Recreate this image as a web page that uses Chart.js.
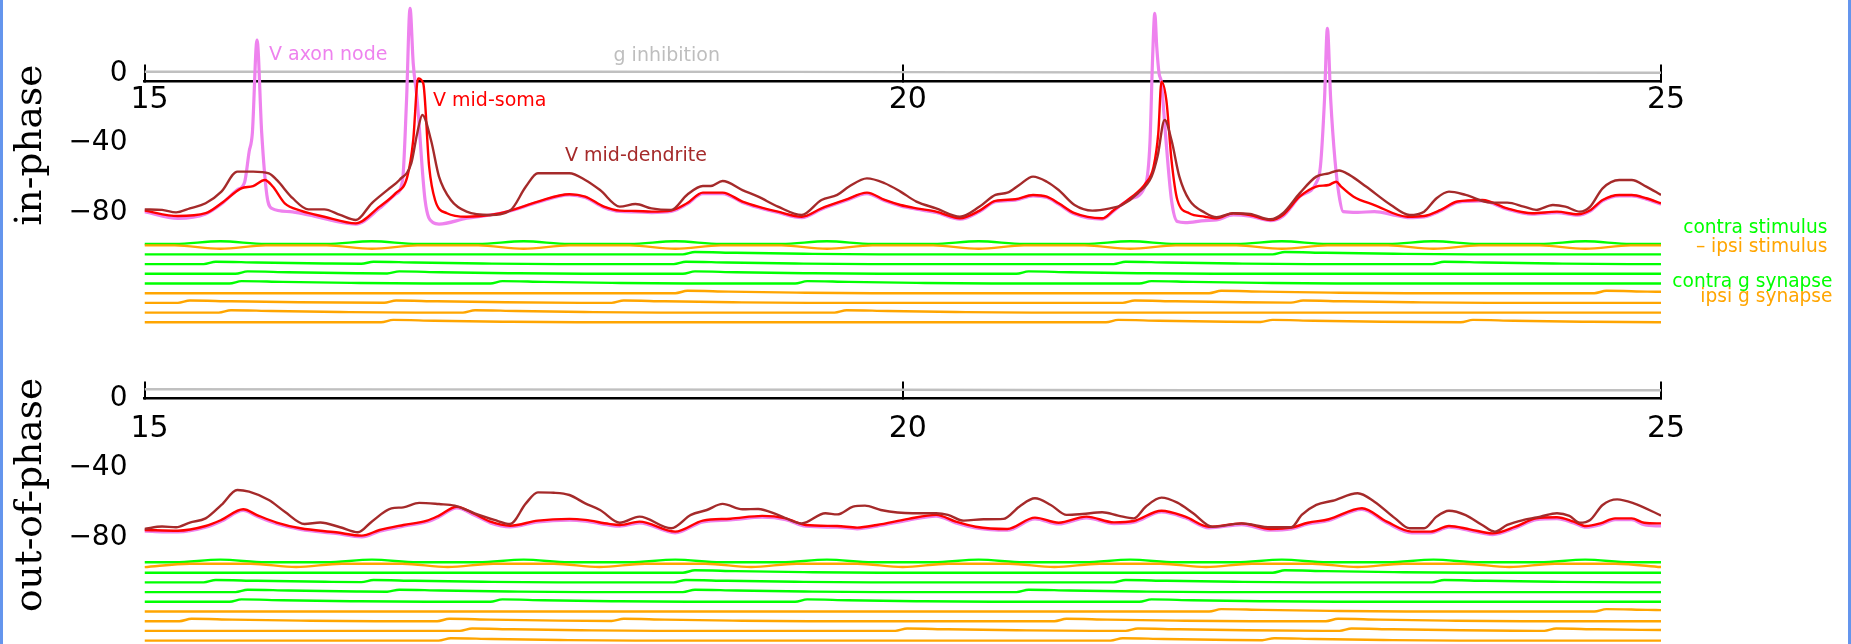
<!DOCTYPE html>
<html><head><meta charset="utf-8">
<script src="https://cdn.jsdelivr.net/npm/chart.js@4.4.1/dist/chart.umd.min.js"></script>
<style>
html,body{margin:0;padding:0;background:#fff;}
body{width:1851px;height:644px;position:relative;overflow:hidden;font-family:"DejaVu Sans",sans-serif;}
canvas{position:absolute;left:0;top:0;}
.lbl{position:absolute;white-space:nowrap;line-height:1;font-family:"DejaVu Sans",sans-serif;}
.ttl{position:absolute;white-space:nowrap;line-height:1;font-family:"DejaVu Serif",serif;font-size:37.5px;color:#000;transform:translate(-50%,-50%) rotate(-90deg);}
.edge{position:absolute;top:0;width:3px;height:644px;background:#6495ed;}
</style></head><body>
<canvas id="cIn" width="1851" height="644"></canvas>
<canvas id="cOut" width="1851" height="644"></canvas>
<div class="edge" style="left:0"></div><div class="edge" style="left:1848px"></div>
<script>
// ---------- tick labels ----------
const xTicks = [15, 20, 25];
const yTicks = [0, -40, -80];

// ---------- in-phase: membrane potentials (ms, mV) ----------
const inDendT = [15.0,15.116,15.208,15.299,15.403,15.507,15.612,15.716,15.82,15.872,15.977,16.081,16.185,16.29,16.394,16.498,16.603,16.681,16.759,16.798,16.832,16.889,16.942,17.02,17.124,17.281,17.411,17.515,17.594,17.802,17.906,18.004,18.134,18.238,18.343,18.473,18.577,18.682,18.734,18.812,18.943,19.047,19.177,19.334,19.464,19.568,19.646,19.764,19.881,19.985,20.09,20.22,20.377,20.507,20.611,20.69,20.768,20.859,20.95,21.028,21.133,21.25,21.367,21.446,21.55,21.641,21.68,21.727,21.772,21.824,21.889,21.993,22.07,22.179,22.289,22.425,22.507,22.617,22.727,22.809,22.877,22.945,23.055,23.219,23.342,23.438,23.52,23.602,23.712,23.876,23.986,24.095,24.177,24.287,24.369,24.465,24.533,24.615,24.725,24.807,24.903,25.0];
const inDendV = [-78.1,-78.4,-79.8,-77.5,-74.6,-67.9,-56.4,-56.4,-57.4,-61.2,-71.7,-78.1,-78.1,-81.3,-84.2,-74.6,-66.9,-61.2,-51.7,-34.5,-23.9,-38.3,-59.3,-72.7,-79.4,-81.3,-78.8,-65.0,-57.4,-57.4,-61.2,-67.0,-76.5,-75.0,-77.5,-78.4,-69.8,-64.7,-64.7,-61.8,-67.0,-70.8,-76.5,-81.3,-72.7,-69.8,-65.0,-60.3,-63.1,-67.9,-73.6,-77.5,-82.3,-76.5,-69.8,-68.5,-64.1,-59.3,-62.2,-67.0,-75.6,-78.8,-77.5,-75.6,-68.9,-59.3,-47.8,-26.8,-38.3,-59.3,-72.7,-80.0,-82.6,-80.3,-80.7,-83.8,-80.3,-68.9,-59.3,-57.4,-55.8,-58.3,-65.0,-75.6,-81.3,-79.4,-71.7,-67.9,-69.8,-74.2,-74.2,-76.5,-78.4,-75.6,-76.5,-79.4,-76.5,-66.0,-61.2,-61.2,-65.0,-69.8];
const inSomaT = [15.0,15.22,15.403,15.507,15.638,15.716,15.794,15.846,15.925,16.029,16.185,16.394,16.55,16.655,16.733,16.772,16.804,16.838,16.877,16.916,16.994,17.124,17.281,17.411,17.594,17.802,17.906,18.03,18.134,18.238,18.343,18.473,18.577,18.682,18.812,18.943,19.047,19.177,19.334,19.464,19.62,19.764,19.881,19.985,20.09,20.22,20.377,20.507,20.611,20.742,20.859,20.95,21.028,21.133,21.315,21.393,21.498,21.602,21.654,21.685,21.706,21.738,21.772,21.811,21.889,21.993,22.07,22.179,22.289,22.425,22.507,22.617,22.727,22.809,22.858,22.891,22.973,23.11,23.329,23.438,23.548,23.657,23.822,23.986,24.15,24.314,24.451,24.533,24.615,24.725,24.807,24.903,25.0];
const inSomaV = [-78.8,-81.9,-80.3,-74.6,-66.0,-64.7,-61.2,-65.0,-74.6,-78.8,-82.3,-86.1,-76.5,-68.9,-59.3,-38.3,-2.9,-5.7,-53.6,-72.7,-80.3,-82.3,-81.3,-78.8,-73.6,-69.4,-70.8,-76.5,-78.8,-79.0,-79.4,-78.8,-74.6,-68.5,-68.5,-73.6,-76.5,-79.4,-82.3,-77.5,-72.7,-68.5,-72.7,-75.6,-77.5,-79.4,-83.2,-78.8,-73.2,-72.3,-69.8,-70.8,-74.6,-80.3,-83.2,-78.4,-71.7,-63.1,-53.6,-34.5,-4.8,-15.3,-49.7,-72.7,-80.3,-82.3,-83.2,-80.3,-81.3,-84.2,-81.3,-70.8,-65.0,-64.1,-62.2,-65.0,-70.8,-75.6,-82.3,-81.9,-78.4,-73.6,-72.7,-77.5,-80.3,-79.4,-80.9,-78.6,-72.7,-69.8,-69.8,-71.7,-74.6];
const inAxonT = [15.0,15.22,15.403,15.507,15.612,15.66,15.69,15.711,15.742,15.773,15.807,15.839,15.96,16.081,16.394,16.55,16.655,16.702,16.728,16.751,16.772,16.798,16.85,16.903,16.942,17.124,17.281,17.411,17.594,17.802,17.906,18.03,18.134,18.238,18.343,18.473,18.577,18.682,18.812,18.943,19.047,19.177,19.334,19.464,19.62,19.764,19.881,19.985,20.09,20.22,20.377,20.507,20.611,20.742,20.859,20.95,21.028,21.133,21.315,21.393,21.498,21.602,21.63,21.648,21.662,21.675,21.69,21.705,21.732,21.772,21.811,21.863,21.993,22.07,22.179,22.289,22.425,22.507,22.617,22.727,22.754,22.781,22.8,22.822,22.85,22.877,22.904,23.0,23.11,23.25,23.329,23.438,23.548,23.657,23.822,23.986,24.15,24.314,24.451,24.533,24.615,24.725,24.807,24.903,25.0];
const inAxonV = [-79.4,-83.2,-80.7,-75.0,-66.9,-62.5,-45,-34.5,19.1,-34.5,-70,-77.5,-79.4,-81.3,-86.5,-77.5,-69.4,-61.2,-15.3,37.3,5.7,-15.3,-72.7,-85.7,-86.5,-83.2,-81.3,-79.0,-74.0,-69.8,-71.3,-77.0,-79.3,-79.5,-79.9,-79.3,-75.1,-69.0,-69.0,-74.1,-77.0,-79.9,-82.8,-78.0,-73.2,-69.0,-73.2,-76.1,-78.0,-79.9,-83.7,-79.3,-73.7,-72.8,-70.3,-71.3,-75.1,-80.8,-83.7,-78.9,-72.2,-63.6,-40,10,34.4,15,0,-5,-34.4,-72.7,-85.1,-85.7,-84.5,-84.2,-81.3,-82.0,-84.5,-82.0,-70.8,-62.7,-53.6,-15.3,25.8,-15.3,-49.7,-70,-79.4,-79.8,-79.4,-81.5,-82.8,-82.4,-78.9,-74.1,-73.2,-78.0,-80.8,-79.9,-81.4,-79.1,-73.2,-70.3,-70.3,-72.2,-75.1];
const inGinhT = [15, 18, 20, 22, 25];
const inGinhV = [0.9, 0.9, 0.7, 0.5, 0.35];

// ---------- out-of-phase: membrane potentials ----------
const outDendT = [15.0,15.116,15.208,15.299,15.403,15.507,15.612,15.69,15.82,15.925,16.055,16.159,16.29,16.407,16.498,16.628,16.707,16.811,16.942,17.046,17.177,17.307,17.411,17.515,17.594,17.698,17.802,17.906,18.004,18.134,18.264,18.473,18.603,18.708,18.812,18.943,19.047,19.177,19.334,19.49,19.568,19.672,19.751,19.855,20.064,20.22,20.298,20.402,20.533,20.663,20.768,20.872,20.976,21.081,21.185,21.315,21.42,21.524,21.602,21.706,21.811,21.915,22.042,22.234,22.425,22.562,22.631,22.727,22.836,23.0,23.11,23.247,23.342,23.438,23.52,23.602,23.712,23.821,23.904,23.986,24.095,24.205,24.314,24.396,24.465,24.533,24.615,24.711,24.821,25.0];
const outDendV = [-75.0,-73.6,-74.0,-71.3,-68.9,-61.2,-52.6,-53.6,-58.4,-65.1,-72.1,-71.3,-74.0,-76.9,-70.8,-63.2,-62.6,-60.0,-60.7,-61.6,-66.0,-69.8,-72.1,-60.3,-54.0,-54.2,-55.5,-60.3,-64.1,-71.4,-67.9,-74.6,-66.9,-64.1,-60.6,-63.7,-63.5,-66.9,-71.8,-66.0,-66.6,-62.2,-61.6,-64.1,-66.0,-66.0,-66.9,-70.2,-69.4,-69.2,-62.2,-57.4,-61.2,-66.9,-66.4,-65.4,-67.3,-68.9,-62.2,-57.0,-59.9,-66.0,-73.7,-71.8,-74.0,-74.0,-66.9,-61.2,-58.8,-54.5,-59.3,-68.9,-74.6,-74.6,-67.9,-64.5,-67.0,-72.7,-76.5,-72.7,-69.8,-67.9,-66.0,-67.5,-71.4,-69.8,-61.2,-58.0,-60.3,-67.3];
const outSomaT = [15.0,15.22,15.403,15.507,15.651,15.742,15.872,16.029,16.263,16.433,16.55,16.707,16.863,16.942,17.059,17.177,17.281,17.411,17.594,17.802,17.906,18.063,18.134,18.264,18.499,18.682,18.864,19.073,19.229,19.36,19.568,19.699,19.829,20.037,20.22,20.35,20.481,20.689,20.872,21.028,21.211,21.393,21.524,21.706,21.863,22.019,22.234,22.425,22.562,22.672,22.809,23.028,23.192,23.356,23.479,23.602,23.739,23.89,24.04,24.177,24.314,24.424,24.506,24.6,24.697,24.807,24.889,25.0];
const outSomaV = [-75.6,-76.0,-73.3,-69.8,-63.7,-67.0,-71.3,-74.6,-76.9,-78.8,-75.6,-72.7,-70.2,-67.3,-62.2,-66.4,-70.8,-73.1,-70.2,-69.2,-69.8,-72.1,-72.7,-70.8,-76.5,-70.2,-69.1,-67.5,-68.9,-72.7,-73.3,-74.2,-72.7,-69.2,-66.9,-70.8,-73.7,-75.0,-68.5,-71.4,-67.9,-71.2,-70.4,-64.5,-67.9,-73.7,-71.8,-75.0,-74.2,-71.4,-69.4,-63.1,-70.8,-76.5,-76.5,-73.3,-75.2,-77.5,-73.7,-68.9,-68.3,-70.8,-73.3,-71.8,-68.9,-68.9,-71.4,-71.8];
const outAxonT = outSomaT;
const outAxonV = [-76.3,-76.7,-74.0,-70.5,-64.4,-67.7,-72.0,-75.3,-77.6,-79.5,-76.3,-73.4,-70.9,-68.0,-62.9,-67.1,-71.5,-73.8,-70.9,-69.9,-70.5,-72.8,-73.4,-71.5,-77.2,-70.9,-69.8,-68.2,-69.6,-73.4,-74.0,-74.9,-73.4,-69.9,-67.6,-71.5,-74.4,-75.7,-69.2,-72.1,-68.6,-71.9,-71.1,-65.2,-68.6,-74.4,-72.5,-75.7,-74.9,-72.1,-70.1,-63.8,-71.5,-77.2,-77.2,-74.0,-75.9,-78.2,-74.4,-69.6,-69.0,-71.5,-74.0,-72.5,-69.6,-69.6,-72.6,-73.3];
const outGinhT = [15, 20, 22, 25];
const outGinhV = [5.2, 4.9, 4.6, 4.6];

// ---------- stimuli (normalised) ----------
const contraStimT = [15,15.2,15.5,15.8,16.2,16.5,16.8,17.2,17.5,17.8,18.2,18.5,18.8,19.2,19.5,19.8,20.2,20.5,20.8,21.2,21.5,21.8,22.2,22.5,22.8,23.2,23.5,23.8,24.2,24.5,24.8,25];
const contraStimV = [0,0,1,0,0,1,0,0,1,0,0,1,0,0,1,0,0,1,0,0,1,0,0,1,0,0,1,0,0,1,0,0];
const inIpsiStimT = [15,15.2,15.5,15.8,16.2,16.5,16.8,17.2,17.5,17.8,18.2,18.5,18.8,19.2,19.5,19.8,20.2,20.5,20.8,21.2,21.5,21.8,22.2,22.5,22.8,23.2,23.5,23.8,24.2,24.5,24.8,25];
const inIpsiStimV = [0,0,1,0,0,1,0,0,1,0,0,1,0,0,1,0,0,1,0,0,1,0,0,1,0,0,1,0,0,1,0,0];
const outIpsiStimT = [15,15.3,15.7,16,16.3,16.7,17,17.3,17.7,18,18.3,18.7,19,19.3,19.7,20,20.3,20.7,21,21.3,21.7,22,22.3,22.7,23,23.3,23.7,24,24.3,24.7,25];
const outIpsiStimV = [1,0,0,1,0,0,1,0,0,1,0,0,1,0,0,1,0,0,1,0,0,1,0,0,1,0,0,1,0,0,1];

// ---------- synaptic conductances (normalised) ----------
const contraSyn1T = [15,18.55,18.63,18.9,19.35,19.85,22.44,22.52,22.79,23.24,23.74,25];
const contraSyn1G = [0,0,1,0.65,0.25,0,0,1,0.65,0.25,0,0];
const contraSyn2T = [15,15.39,15.47,15.74,16.19,16.43,16.51,16.78,17.23,17.73,18.49,18.57,18.84,19.29,19.79,21.39,21.47,21.74,22.19,22.69,23.49,23.57,23.84,24.29,24.79,25];
const contraSyn2G = [0,0,1,0.65,0.25,0.12,1,0.65,0.25,0,0,1,0.65,0.25,0,0,1,0.65,0.25,0,0,1,0.65,0.25,0,0];
const contraSyn3T = [15,15.6,15.68,15.95,16.4,16.6,16.68,16.95,17.4,17.9,18.55,18.63,18.9,19.35,19.85,20.75,20.83,21.1,21.55,22.05,25];
const contraSyn3G = [0,0,1,0.65,0.25,0.15,1,0.65,0.25,0,0,1,0.65,0.25,0,0,1,0.65,0.25,0,0];
const contraSyn4T = [15,15.56,15.64,15.91,16.36,16.86,17.28,17.36,17.63,18.08,18.58,19.29,19.37,19.64,20.09,20.59,21.56,21.64,21.91,22.36,22.86,25];
const contraSyn4G = [0,0,1,0.65,0.25,0,0,1,0.65,0.25,0,0,1,0.65,0.25,0,0,1,0.65,0.25,0,0];

const inIpsiSyn1T = [15,18.5,18.58,18.85,19.3,19.8,22.02,22.1,22.37,22.82,23.32,24.56,24.64,24.91,25];
const inIpsiSyn1G = [0,0,1,0.65,0.25,0,0,1,0.65,0.25,0,0,1,0.65,0.58];
const inIpsiSyn2T = [15,15.22,15.3,15.57,16.02,16.58,16.66,16.93,17.38,17.88,18.08,18.16,18.43,18.88,19.38,21.45,21.53,21.8,22.25,22.56,22.64,22.91,23.36,23.86,25];
const inIpsiSyn2G = [0,0,1,0.65,0.25,0.05,1,0.65,0.25,0.02,0,1,0.65,0.25,0,0,1,0.65,0.25,0.12,1,0.65,0.25,0,0];
const inIpsiSyn3T = [15,15.49,15.57,15.84,16.29,16.79,17.1,17.18,17.45,17.9,18.4,19.55,19.63,19.9,20.35,20.85,25];
const inIpsiSyn3G = [0,0,1,0.65,0.25,0,0,1,0.65,0.25,0,0,1,0.65,0.25,0,0];
const inIpsiSyn4T = [15,16.56,16.64,16.91,17.36,17.86,21.34,21.42,21.69,22.14,22.36,22.44,22.71,23.16,23.68,23.76,24.03,24.48,24.98,25];
const inIpsiSyn4G = [0,0,1,0.65,0.25,0,0,1,0.65,0.25,0.15,1,0.65,0.25,0.02,1,0.65,0.25,0,0];

const outIpsiSyn1T = [15,22.02,22.1,22.37,22.82,23.32,24.56,24.64,24.91,25];
const outIpsiSyn1G = [0,0,1,0.65,0.25,0,0,1,0.65,0.58];
const outIpsiSyn2T = [15,15.23,15.31,15.58,16.03,16.53,16.93,17.01,17.28,17.73,18.08,18.16,18.43,18.88,19.38,21.0,21.08,21.35,21.8,22.3,22.79,22.87,23.14,23.59,24.09,25];
const outIpsiSyn2G = [0,0,1,0.65,0.25,0,0,1,0.65,0.25,0.1,1,0.65,0.25,0,0,1,0.65,0.25,0,0,1,0.65,0.25,0,0];
const outIpsiSyn3T = [15,17.08,17.16,17.43,17.88,18.38,19.95,20.03,20.3,20.75,21.25,21.47,21.55,21.82,22.27,22.77,22.88,22.96,23.23,23.68,24.18,24.23,24.31,24.58,25];
const outIpsiSyn3G = [0,0,1,0.65,0.25,0,0,1,0.65,0.25,0,0,1,0.65,0.25,0.02,0,1,0.65,0.25,0.02,0,1,0.65,0.35];
const outIpsiSyn4T = [15,16.94,17.02,17.29,17.74,18.24,21.37,21.45,21.72,22.17,22.37,22.45,22.72,23.17,23.67,25];
const outIpsiSyn4G = [0,0,1,0.65,0.25,0,0,1,0.65,0.25,0.15,1,0.65,0.25,0,0];

// ---------- styling / layout ----------
const W = 1851, H = 644;
const GREEN = '#00ff00', ORANGE = '#ffa500';
const PX_PER_MV = 1.7425, PX_PER_ROW = 9.7;
const SYN_AMP = 0.25, CSTIM_AMP = 0.28, ISTIM_AMP = 0.35;

function pts(T, V, f) { return T.map((t, i) => ({x: t, y: f(V[i])})); }
function ds(data, color, width, axis, order) {
  return {data, borderColor: color, borderWidth: width, yAxisID: axis, order,
          pointRadius: 0, fill: false, cubicInterpolationMode: 'monotone', borderCapStyle: 'butt'};
}
function noPad(s) { s.paddingTop = 0; s.paddingBottom = 0; s.paddingLeft = 0; s.paddingRight = 0; }

function makePanel(id, p) {
  const vMax = p.zeroPx / PX_PER_MV, vMin = vMax - H / PX_PER_MV;
  const rMax = p.row0Px / PX_PER_ROW, rMin = rMax - H / PX_PER_ROW;
  const id0 = v => v;
  const sets = [
    ds(pts(p.dendT, p.dendV, id0), '#a52a2a', 2.4, 'y', 1),
    ds(pts(p.somaT, p.somaV, id0), '#ff0000', 2.4, 'y', 2),
    ds(pts(p.axonT, p.axonV, id0), '#ee82ee', 3.2, 'y', 3),
    ds(pts(p.ginhT, p.ginhV, id0), '#c0c0c0', 2.4, 'y', 4),
    ds(pts(p.iStimT, p.iStimV, v => -0.07 - ISTIM_AMP * v), ORANGE, 2.4, 'yRows', 11),
    ds(pts(p.cStimT, p.cStimV, v => 0.07 + CSTIM_AMP * v), GREEN, 2.4, 'yRows', 12),
  ];
  p.cSyn.forEach((s, i) => sets.push(ds(pts(s[0], s[1], v => -(i + 1) + SYN_AMP * v), GREEN, 2.4, 'yRows', 13 + i)));
  p.iSyn.forEach((s, i) => sets.push(ds(pts(s[0], s[1], v => -(i + 5) + SYN_AMP * v), ORANGE, 2.4, 'yRows', 20 + i)));

  new Chart(document.getElementById(id), {
    type: 'line',
    data: {datasets: sets},
    options: {
      responsive: false, animation: false, devicePixelRatio: 1, events: [],
      layout: {padding: {left: 0, right: 190, top: 0, bottom: 0}},
      plugins: {legend: {display: false}, tooltip: {enabled: false}},
      scales: {
        x: {
          type: 'linear', axis: 'x', min: 15, max: 25, position: {y: p.axisV},
          afterBuildTicks: s => { s.ticks = xTicks.map(v => ({value: v})); },
          afterFit: noPad,
          ticks: {font: {family: 'DejaVu Sans', size: 30, lineHeight: 1}, color: '#000',
                  padding: p.xPad, labelOffset: 5, maxRotation: 0, autoSkip: false,
                  callback: v => String(v)},
          grid: {display: true, drawOnChartArea: false, drawTicks: true, tickLength: -18,
                 color: '#000', lineWidth: 2},
          border: {display: true, color: '#000', width: 2.5}
        },
        y: {
          type: 'linear', axis: 'y', position: 'left', min: vMin, max: vMax,
          afterBuildTicks: s => { s.ticks = yTicks.map(v => ({value: v})); },
          afterFit: s => { s.width = 144.5; noPad(s); },
          ticks: {font: {family: 'DejaVu Sans', size: 28}, color: '#000', padding: 17,
                  callback: v => v < 0 ? '\u2212' + Math.abs(v) : String(v)},
          grid: {display: false, drawTicks: false}, border: {display: false}
        },
        yRows: {type: 'linear', axis: 'y', display: false, min: rMin, max: rMax}
      }
    }
  });
}

makePanel('cIn', {
  zeroPx: 73.3, row0Px: 244.7, axisV: -4.42, xPad: 22.3,
  dendT: inDendT, dendV: inDendV, somaT: inSomaT, somaV: inSomaV, axonT: inAxonT, axonV: inAxonV,
  ginhT: inGinhT, ginhV: inGinhV,
  cStimT: contraStimT, cStimV: contraStimV, iStimT: inIpsiStimT, iStimV: inIpsiStimV,
  cSyn: [[contraSyn1T, contraSyn1G], [contraSyn2T, contraSyn2G], [contraSyn3T, contraSyn3G], [contraSyn4T, contraSyn4G]],
  iSyn: [[inIpsiSyn1T, inIpsiSyn1G], [inIpsiSyn2T, inIpsiSyn2G], [inIpsiSyn3T, inIpsiSyn3G], [inIpsiSyn4T, inIpsiSyn4G]]
});
makePanel('cOut', {
  zeroPx: 398.3, row0Px: 563.0, axisV: 0, xPad: 33.5,
  dendT: outDendT, dendV: outDendV, somaT: outSomaT, somaV: outSomaV, axonT: outAxonT, axonV: outAxonV,
  ginhT: outGinhT, ginhV: outGinhV,
  cStimT: contraStimT, cStimV: contraStimV, iStimT: outIpsiStimT, iStimV: outIpsiStimV,
  cSyn: [[contraSyn1T, contraSyn1G], [contraSyn2T, contraSyn2G], [contraSyn3T, contraSyn3G], [contraSyn4T, contraSyn4G]],
  iSyn: [[outIpsiSyn1T, outIpsiSyn1G], [outIpsiSyn2T, outIpsiSyn2G], [outIpsiSyn3T, outIpsiSyn3G], [outIpsiSyn4T, outIpsiSyn4G]]
});

// ---------- text labels ----------
const labels = [
  {t: 'V axon node', x: 269, b: 60, s: 19, c: '#ee82ee'},
  {t: 'V mid-soma', x: 433, b: 106.5, s: 19, c: '#ff0000'},
  {t: 'V mid-dendrite', x: 565, b: 161.5, s: 19, c: '#a52a2a'},
  {t: 'g inhibition', x: 613.5, b: 61.5, s: 19, c: '#bebebe'},
  {t: 'contra stimulus', r: 1827.5, b: 234, s: 18.6, c: GREEN},
  {t: '\u2013 ipsi stimulus', r: 1827.5, b: 252.3, s: 18.6, c: ORANGE},
  {t: 'contra g synapse', r: 1832.5, b: 287.3, s: 18.6, c: GREEN},
  {t: 'ipsi g synapse', r: 1832.5, b: 302.7, s: 18.6, c: ORANGE}
];
labels.forEach(l => {
  const d = document.createElement('div');
  d.className = 'lbl';
  d.textContent = l.t;
  d.style.fontSize = l.s + 'px';
  d.style.color = l.c;
  d.style.top = (l.b - 0.846 * l.s) + 'px';
  if (l.r !== undefined) d.style.right = (W - l.r) + 'px'; else d.style.left = l.x + 'px';
  document.body.appendChild(d);
});
[{t: 'in-phase', x: 28.5, y: 145}, {t: 'out-of-phase', x: 28.5, y: 495}].forEach(l => {
  const d = document.createElement('div');
  d.className = 'ttl';
  d.textContent = l.t;
  d.style.left = l.x + 'px';
  d.style.top = l.y + 'px';
  document.body.appendChild(d);
});
</script>
</body></html>
